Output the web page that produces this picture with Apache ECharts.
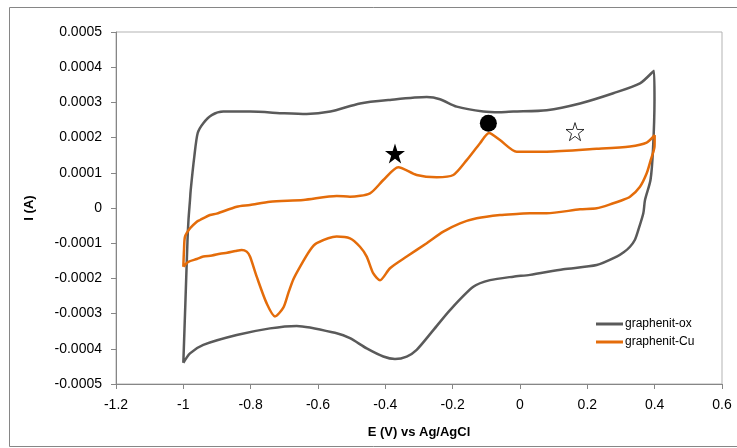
<!DOCTYPE html>
<html>
<head>
<meta charset="utf-8">
<script src="https://cdn.jsdelivr.net/npm/echarts@6/dist/echarts.min.js"></script>
<style>html,body{margin:0;padding:0;background:#fff}#c{width:737px;height:448px}</style>
</head>
<body>
<div id="c"></div>
<script>
// graphenit-ox (gray) cyclic voltammogram: potential (V) and current (A)
const oxV = [-1.0, -0.9936, -0.9876, -0.9847, -0.9802, -0.9781, -0.9674, -0.9573, -0.9407, -0.9157, -0.8813, -0.802, -0.7, -0.6336, -0.5633, -0.4752, -0.3861, -0.2771, -0.2376, -0.188, -0.109, -0.0594, -0.0199, 0.0793, 0.1782, 0.2771, 0.3564, 0.398,
  0.3995, 0.395, 0.3876, 0.3713, 0.3663, 0.3514, 0.341, 0.3267, 0.309, 0.2872, 0.2278, 0.1286, 0.0297, -0.0199, -0.0891, -0.1387, -0.2079, -0.2575, -0.3069, -0.3365, -0.3713, -0.406, -0.4553, -0.505, -0.5445, -0.6633, -0.7426, -0.8415, -0.9407, -0.9802, -1.0];
const oxI = [-0.00044, -0.000261, -0.0000909, -0.0000341, 0.0000227, 0.0000511, 0.000146, 0.000213, 0.000241, 0.000264, 0.000274, 0.000274, 0.000269, 0.000267, 0.000274, 0.000297, 0.000307, 0.000315, 0.000309, 0.000288, 0.000274, 0.000272, 0.000274, 0.000278, 0.000297, 0.000326, 0.000354, 0.00039,
  0.000307, 0.000165, 0.0000795, 0.0000227, -0.0000151, -0.0000625, -0.0000909, -0.00011, -0.000125, -0.000138, -0.000162, -0.000174, -0.00019, -0.000195, -0.000205, -0.000224, -0.00029, -0.000347, -0.000403, -0.000422, -0.000429, -0.000422, -0.000399, -0.00037, -0.000356, -0.000335, -0.000342, -0.000361, -0.000389, -0.000413, -0.00044];

// graphenit-Cu (orange)
const cuV = [-1.0, -0.998, -0.995, -0.98, -0.96, -0.9505, -0.9208, -0.9009, -0.8415, -0.802, -0.7426, -0.6437, -0.5445, -0.505, -0.4456, -0.406, -0.3615, -0.3069, -0.2474, -0.1981, -0.1583, -0.1188, -0.0921, -0.0594, -0.0098, 0.0793, 0.2278, 0.3267, 0.3763, 0.4,
  0.3995, 0.3882, 0.3763, 0.3564, 0.3267, 0.297, 0.2771, 0.2278, 0.1782, 0.0793, 0.0297, -0.0098, -0.0594, -0.1286, -0.1782, -0.2278, -0.2771, -0.3365, -0.3861, -0.4158, -0.4357, -0.4553, -0.4753, -0.505, -0.5445, -0.6039, -0.6238, -0.6535, -0.6734, -0.6882, -0.703, -0.7277, -0.7524, -0.7821, -0.802, -0.8118, -0.8266, -0.845, -0.87, -0.8911, -0.915, -0.9407, -0.96, -0.9852, -1.0];
const cuI = [-0.000167, -0.000119, -0.0000815, -0.0000577, -0.0000389, -0.0000341, -0.0000199, -0.000016, 0.0000037, 0.0000085, 0.0000179, 0.0000227, 0.0000341, 0.0000321, 0.0000418, 0.0000795, 0.000116, 0.0000938, 0.0000872, 0.0000938, 0.000136, 0.000184, 0.000213, 0.000193, 0.00016, 0.00016, 0.000168, 0.000175, 0.000186, 0.000207,
  0.000174, 0.000136, 0.0000986, 0.0000605, 0.0000321, 0.0000199, 0.0000134, -0.0000009, -0.0000037, -0.0000151, -0.0000151, -0.000017, -0.0000199, -0.0000293, -0.0000435, -0.0000673, -0.0001, -0.000138, -0.000171, -0.000205, -0.000186, -0.000138, -0.00011, -0.0000861, -0.000081, -0.0001, -0.00012, -0.000167, -0.000203, -0.000242, -0.000283, -0.000308, -0.000271, -0.000195, -0.000138, -0.000124, -0.000119, -0.000122, -0.000127, -0.00013, -0.000135, -0.000138, -0.000145, -0.000153, -0.000167];

// annotation markers: filled star, filled circle, open star
const starV = [-0.3713], starI = [0.000155];
const dotV = [-0.094], dotI = [0.000241];
const openStarV = [0.1634], openStarI = [0.000217];

const xTicks = { min: -1.2, max: 0.6, step: 0.2 };
const yTicks = { min: -0.0005, max: 0.0005, step: 0.0001 };
const seriesNames = ['graphenit-ox', 'graphenit-Cu'];

const zip = (a, b) => a.map((v, i) => [v, b[i]]);
const STAR = 'path://M50,0 L61.2,34.5 L97.6,34.5 L68.2,55.9 L79.4,90.5 L50,69.1 L20.6,90.5 L31.8,55.9 L2.4,34.5 L38.8,34.5 Z';

const chart = echarts.init(document.getElementById('c'), null, { renderer: 'canvas' });
const font = 'Liberation Sans';
chart.setOption({
  animation: false,
  backgroundColor: '#fff',
  graphic: [{
    type: 'rect', silent: true, z: -1,
    shape: { x: 9.5, y: 7.5, width: 740, height: 439 },
    style: { fill: 'none', stroke: '#868686', lineWidth: 1 }
  }],
  grid: { left: 116, right: 15, top: 32, bottom: 64, show: true, borderColor: '#b3b3b3', borderWidth: 1, backgroundColor: 'transparent' },
  legend: {
    data: seriesNames,
    orient: 'vertical', left: 591, top: 313, itemGap: 6,
    itemWidth: 27, itemHeight: 3, icon: 'rect',
    textStyle: { fontFamily: font, fontSize: 12, color: '#000', padding: [0, 0, 0, -3] }
  },
  xAxis: {
    type: 'value', min: xTicks.min, max: xTicks.max, interval: xTicks.step,
    name: 'E (V) vs Ag/AgCl', nameLocation: 'middle', nameGap: 42,
    nameTextStyle: { fontFamily: font, fontSize: 13, fontWeight: 'bold', color: '#000' },
    axisLine: { onZero: false, lineStyle: { color: '#868686', width: 1 } },
    axisTick: { show: true, length: 5, lineStyle: { color: '#868686' } },
    axisLabel: { fontFamily: font, fontSize: 14, color: '#000', margin: 14, formatter: v => String(Math.round(v * 10) / 10) },
    splitLine: { show: false }
  },
  yAxis: {
    type: 'value', min: yTicks.min, max: yTicks.max, interval: yTicks.step,
    name: 'I (A)', nameLocation: 'middle', nameGap: 80, nameRotate: 90,
    nameTextStyle: { fontFamily: font, fontSize: 13, fontWeight: 'bold', color: '#000' },
    axisLine: { show: true, onZero: false, lineStyle: { color: '#868686', width: 1 } },
    axisTick: { show: true, length: 5, lineStyle: { color: '#868686' } },
    axisLabel: { fontFamily: font, fontSize: 14, color: '#000', margin: 14,
      formatter: v => { const r = Math.round(v * 10000); return r === 0 ? '0' : (r / 10000).toFixed(4); } },
    splitLine: { show: false }
  },
  series: [
    { name: seriesNames[0], type: 'line', data: zip(oxV, oxI), showSymbol: false, smooth: 0.25,
      lineStyle: { color: '#5a5a5a', width: 2.5 }, itemStyle: { color: '#5a5a5a' }, z: 2 },
    { name: seriesNames[1], type: 'line', data: zip(cuV, cuI), showSymbol: false, smooth: 0.25,
      lineStyle: { color: '#e46c0a', width: 2.5 }, itemStyle: { color: '#e46c0a' }, z: 3 },
    { name: 'star', type: 'scatter', data: zip(starV, starI), symbol: STAR, symbolSize: 20,
      itemStyle: { color: '#000', opacity: 1 }, z: 4 },
    { name: 'dot', type: 'scatter', data: zip(dotV, dotI), symbol: 'circle', symbolSize: 17,
      itemStyle: { color: '#000', opacity: 1 }, z: 4 },
    { name: 'openStar', type: 'scatter', data: zip(openStarV, openStarI), symbol: STAR, symbolSize: 18,
      itemStyle: { color: '#fff', borderColor: '#000', borderWidth: 0.8, opacity: 1 }, z: 4 }
  ]
});
</script>
</body>
</html>
